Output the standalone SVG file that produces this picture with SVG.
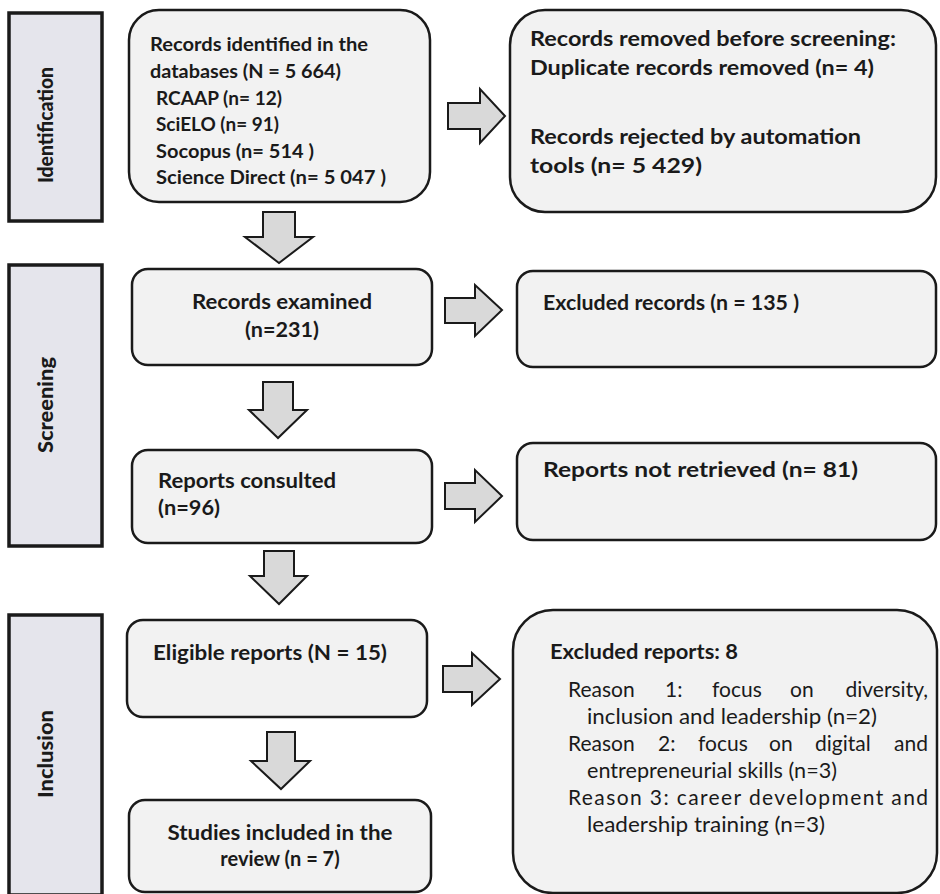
<svg xmlns="http://www.w3.org/2000/svg" width="940" height="894" viewBox="0 0 940 894">
<style>
.bg{fill:#ffffff}
.bar{fill:#e5e5ec;stroke:#1a1a1a;stroke-width:3.5}
.box{fill:#f2f2f2;stroke:#1a1a1a;stroke-width:2.5}
.arr{fill:#d9d9d9;stroke:#1a1a1a;stroke-width:2;stroke-linejoin:miter}
text{font-family:Lato,"Liberation Sans",sans-serif;fill:#1a1a1a}
.b{font-weight:bold}
.lab{font-weight:900;font-size:21px}
.t18{font-size:18px}
.t20{font-size:20px}
.t21{font-size:21px}
.r{font-weight:normal;font-size:21px}
</style>
<rect class="bg" x="0" y="0" width="940" height="894"/>
<g id="phase-identification">
<rect class="bar" x="9" y="13" width="93" height="208"/>
<text class="lab" style="font-size:20px" transform="translate(53,125) rotate(-90)" text-anchor="middle" textLength="116" lengthAdjust="spacingAndGlyphs">Identification</text>
</g>
<g id="phase-screening">
<rect class="bar" x="9" y="265" width="93" height="281"/>
<text class="lab" transform="translate(53,405) rotate(-90)" text-anchor="middle" textLength="96" lengthAdjust="spacingAndGlyphs">Screening</text>
</g>
<g id="phase-inclusion">
<rect class="bar" x="9" y="615" width="93" height="280"/>
<text class="lab" transform="translate(53,754) rotate(-90)" text-anchor="middle" textLength="88" lengthAdjust="spacingAndGlyphs">Inclusion</text>
</g>
<g id="connectors">
<polygon class="arr" points="448,103 480,103 480,89 505,116 480,143 480,129 448,129"/>
<polygon class="arr" points="445,298 475,298 475,285 502,310 475,336 475,323 445,323"/>
<polygon class="arr" points="445,483 475,483 475,470 502,496 475,522 475,509 445,509"/>
<polygon class="arr" points="443,666 472,666 472,653 500,679 472,705 472,692 443,692"/>
<polygon class="arr" points="263,212 295,212 295,237 313,237 279,263 245,237 263,237"/>
<polygon class="arr" points="263,382 293,382 293,410 307,410 278,438 249,410 263,410"/>
<polygon class="arr" points="264,551 294,551 294,576 307,576 279,604 250,576 264,576"/>
<polygon class="arr" points="267,732 295,732 295,761 310,761 281,789 251,761 267,761"/>
</g>
<g id="records-identified">
<rect class="box" x="129" y="10" width="301" height="192" rx="30"/>
<text class="b t18" x="150" y="51" textLength="218" lengthAdjust="spacingAndGlyphs">Records identified in the</text>
<text class="b t18" x="150" y="78" textLength="191" lengthAdjust="spacingAndGlyphs">databases (N = 5 664)</text>
<text class="b t18" x="156" y="105" textLength="126" lengthAdjust="spacingAndGlyphs">RCAAP (n= 12)</text>
<text class="b t18" x="156" y="131" textLength="123" lengthAdjust="spacingAndGlyphs">SciELO (n= 91)</text>
<text class="b t18" x="156" y="158" textLength="158" lengthAdjust="spacingAndGlyphs">Socopus (n= 514 )</text>
<text class="b t18" x="156" y="184" textLength="230" lengthAdjust="spacingAndGlyphs">Science Direct (n= 5 047 )</text>
</g>
<g id="records-removed">
<rect class="box" x="510" y="10" width="426" height="202" rx="35"/>
<text class="b t21" x="530" y="46" textLength="366" lengthAdjust="spacingAndGlyphs">Records removed before screening:</text>
<text class="b t21" x="530" y="75" textLength="344" lengthAdjust="spacingAndGlyphs">Duplicate records removed (n= 4)</text>
<text class="b t21" x="530" y="144" textLength="331" lengthAdjust="spacingAndGlyphs">Records rejected by automation</text>
<text class="b t21" x="530" y="173" textLength="172" lengthAdjust="spacingAndGlyphs">tools (n= 5 429)</text>
</g>
<g id="records-examined">
<rect class="box" x="132" y="269" width="300" height="96" rx="16"/>
<text class="b t20" x="282" y="309" text-anchor="middle" textLength="180" lengthAdjust="spacingAndGlyphs">Records examined</text>
<text class="b t20" x="282" y="337" text-anchor="middle" textLength="74" lengthAdjust="spacingAndGlyphs">(n=231)</text>
</g>
<g id="excluded-records">
<rect class="box" x="517" y="271" width="419" height="96" rx="16"/>
<text class="b t20" x="543" y="310" textLength="256" lengthAdjust="spacingAndGlyphs">Excluded records (n = 135 )</text>
</g>
<g id="reports-consulted">
<rect class="box" x="132" y="450" width="300" height="93" rx="16"/>
<text class="b t20" x="158" y="488" textLength="178" lengthAdjust="spacingAndGlyphs">Reports consulted</text>
<text class="b t20" x="158" y="515" textLength="62" lengthAdjust="spacingAndGlyphs">(n=96)</text>
</g>
<g id="reports-not-retrieved">
<rect class="box" x="517" y="443" width="419" height="97" rx="16"/>
<text class="b t20" x="543" y="477" textLength="315" lengthAdjust="spacingAndGlyphs">Reports not retrieved (n= 81)</text>
</g>
<g id="eligible-reports">
<rect class="box" x="127" y="620" width="300" height="97" rx="16"/>
<text class="b t20" x="153" y="660" textLength="234" lengthAdjust="spacingAndGlyphs">Eligible reports (N = 15)</text>
</g>
<g id="studies-included">
<rect class="box" x="129" y="800" width="302" height="92" rx="16"/>
<text class="b t20" x="280" y="840" text-anchor="middle" textLength="225" lengthAdjust="spacingAndGlyphs">Studies included in the</text>
<text class="b t20" x="280" y="866" text-anchor="middle">review (n = 7)</text>
</g>
<g id="excluded-reports">
<rect class="box" x="513" y="610" width="424" height="283" rx="40"/>
<text class="b t20" x="550" y="659" textLength="188" lengthAdjust="spacingAndGlyphs">Excluded reports: 8</text>
<text class="r" y="697"><tspan x="568">Reason</tspan><tspan x="665">1:</tspan><tspan x="712">focus</tspan><tspan x="790">on</tspan></text>
<text class="r" x="928" y="697" text-anchor="end">diversity,</text>
<text class="r" x="587" y="724" textLength="290" lengthAdjust="spacingAndGlyphs">inclusion and leadership (n=2)</text>
<text class="r" y="751"><tspan x="568">Reason</tspan><tspan x="658">2:</tspan><tspan x="698">focus</tspan><tspan x="769">on</tspan><tspan x="815">digital</tspan></text>
<text class="r" x="928" y="751" text-anchor="end">and</text>
<text class="r" x="587" y="778" textLength="250" lengthAdjust="spacingAndGlyphs">entrepreneurial skills (n=3)</text>
<text class="r" x="568" y="805" textLength="360" lengthAdjust="spacing">Reason 3: career development and</text>
<text class="r" x="587" y="832" textLength="238" lengthAdjust="spacingAndGlyphs">leadership training (n=3)</text>
</g>
</svg>
